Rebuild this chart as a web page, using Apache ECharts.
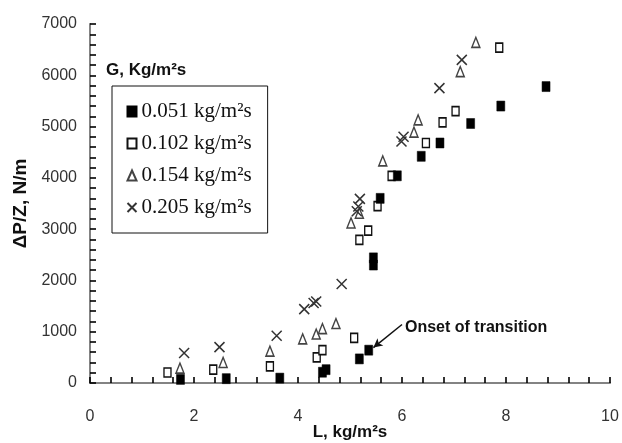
<!DOCTYPE html>
<html>
<head>
<meta charset="utf-8">
<script src="https://cdn.jsdelivr.net/npm/echarts@6/dist/echarts.min.js"></script>
<style>
  html, body { margin: 0; padding: 0; background: #fff; }
  #chart { width: 622px; height: 443px; }
</style>
</head>
<body>
<div id="chart"></div>
<script>
// ---- Data ----
const seriesNames = ['0.051 kg/m\u00b2s', '0.102 kg/m\u00b2s', '0.154 kg/m\u00b2s', '0.205 kg/m\u00b2s'];

// L (kg/m2s), dP/Z (N/m)
const g051 = [
  [1.74, 70], [2.62, 85], [3.65, 95], [4.47, 210], [4.54, 260], [5.18, 470],
  [5.36, 640], [5.45, 2300], [5.45, 2440], [5.58, 3600], [5.91, 4040],
  [6.37, 4420], [6.73, 4680], [7.32, 5060], [7.90, 5400], [8.77, 5780]
];
const g102 = [
  [1.49, 205], [2.37, 260], [3.46, 325], [4.36, 500], [4.47, 640], [5.08, 880],
  [5.18, 2790], [5.35, 2970], [5.53, 3450], [5.80, 4040], [6.46, 4680],
  [6.78, 5080], [7.03, 5300], [7.87, 6540]
];
const g154 = [
  [1.73, 290], [2.56, 400], [3.46, 620], [4.09, 860], [4.35, 955], [4.47, 1060],
  [4.73, 1160], [5.02, 3120], [5.18, 3310], [5.63, 4330], [6.23, 4890],
  [6.31, 5130], [7.12, 6070], [7.42, 6640]
];
const g205 = [
  [1.81, 585], [2.49, 700], [3.59, 920], [4.12, 1440], [4.30, 1560], [4.35, 1590],
  [4.84, 1930], [5.13, 3350], [5.16, 3440], [5.19, 3590], [5.99, 4710],
  [6.03, 4800], [6.72, 5750], [7.15, 6300]
];

// annotation arrow (data coordinates): from label to onset point
const onsetArrowFrom = [6.0, 1140];
const onsetArrowTo = [5.45, 690];

const xMin = 0, xMax = 10, xStep = 2;
const yMin = 0, yMax = 7000, yStep = 1000;

const sans = "'Liberation Sans', Arial, sans-serif";
const serif = "'Liberation Serif', 'Times New Roman', serif";

const chart = echarts.init(document.getElementById('chart'));

const option = {
  animation: false,
  backgroundColor: '#fff',
  grid: {
    left: 90, right: 12, top: 24, bottom: 60,
    outerBoundsMode: 'none'
  },
  title: {
    text: 'G, Kg/m\u00b2s',
    left: 106, top: 62,
    padding: 0,
    textStyle: { fontFamily: sans, fontWeight: 'bold', fontSize: 17, color: '#111' }
  },
  legend: {
    orient: 'vertical',
    left: 112, top: 86,
    padding: [15, 16, 15, 13],
    itemGap: 11,
    itemWidth: 9, itemHeight: 10,
    itemTextGap: 7,
    borderColor: '#111', borderWidth: 1,
    backgroundColor: '#fff',
    textStyle: { fontFamily: serif, fontSize: 21, color: '#111' },
    data: seriesNames
  },
  xAxis: [
    {
      type: 'value',
      position: 'bottom',
      min: xMin, max: xMax, interval: xStep,
      name: 'L, kg/m\u00b2s',
      nameLocation: 'middle',
      nameGap: 41,
      nameMoveOverlap: false,
      nameTextStyle: { fontFamily: sans, fontWeight: 'bold', fontSize: 17, color: '#111' },
      axisLine: { show: true, lineStyle: { color: '#000', width: 1.5 } },
      axisTick: { show: true, inside: true, length: 6, lineStyle: { color: '#000', width: 1.6 } },
      minorTick: { show: true, splitNumber: 5, length: 6, lineStyle: { color: '#000', width: 1.6 } },
      splitLine: { show: false },
      axisLabel: { margin: 26, fontFamily: sans, fontSize: 16, color: '#333' }
    },
    {
      type: 'value',
      position: 'top',
      min: xMin, max: xMax, interval: xStep,
      axisLine: { show: true, lineStyle: { color: '#9a9a9a', width: 1.5 } },
      axisTick: { show: false },
      axisLabel: { show: false },
      splitLine: { show: false }
    }
  ],
  yAxis: [
    {
      type: 'value',
      position: 'left',
      min: yMin, max: yMax, interval: yStep,
      name: '\u0394P/Z, N/m',
      nameLocation: 'middle',
      nameGap: 54,
      nameRotate: 90,
      nameTextStyle: { fontFamily: sans, fontWeight: 'bold', fontSize: 19, color: '#111' },
      axisLine: { show: true, lineStyle: { color: '#000', width: 1.5 } },
      axisTick: { show: true, inside: true, length: 6, lineStyle: { color: '#000', width: 1.6 } },
      minorTick: { show: true, splitNumber: 5, length: 6, lineStyle: { color: '#000', width: 1.6 } },
      splitLine: { show: false },
      axisLabel: {
        margin: 13, fontFamily: sans, fontSize: 16, color: '#333',
        formatter: function (v) { return String(v); }
      }
    },
    {
      type: 'value',
      position: 'right',
      min: yMin, max: yMax, interval: yStep,
      axisLine: { show: true, lineStyle: { color: '#9a9a9a', width: 1.5 } },
      axisTick: { show: false },
      axisLabel: { show: false },
      splitLine: { show: false }
    }
  ],
  graphic: [
    {
      type: 'text',
      left: 405, top: 320,
      style: {
        text: 'Onset of transition',
        font: "bold 16px 'Liberation Sans', Arial, sans-serif",
        fill: '#111'
      }
    }
  ],
  series: [
    {
      name: seriesNames[0],
      type: 'scatter',
      data: g051,
      symbol: 'rect',
      symbolSize: [8, 10],
      itemStyle: { color: '#000', borderColor: '#000', borderWidth: 0.5, opacity: 1 },
      z: 4,
      markLine: {
        silent: true,
        symbol: ['none', 'arrow'],
        symbolSize: [7, 9],
        label: { show: false },
        lineStyle: { color: '#111', width: 1.5, type: 'solid' },
        data: [[{ coord: onsetArrowFrom }, { coord: onsetArrowTo }]]
      }
    },
    {
      name: seriesNames[1],
      type: 'scatter',
      data: g102,
      symbol: 'rect',
      symbolSize: [7, 9],
      itemStyle: { color: '#fff', borderColor: '#111', borderWidth: 1.5, opacity: 1 },
      z: 3
    },
    {
      name: seriesNames[2],
      type: 'scatter',
      data: g154,
      symbol: 'triangle',
      symbolSize: [8, 10],
      itemStyle: { color: '#fff', borderColor: '#444', borderWidth: 1.5, opacity: 1 },
      z: 3
    },
    {
      name: seriesNames[3],
      type: 'scatter',
      data: g205,
      symbol: 'path://M0,0L10,10M10,0L0,10',
      symbolSize: 10,
      itemStyle: { color: 'none', borderColor: '#333', borderWidth: 1.5, opacity: 1 },
      z: 3
    }
  ]
};

chart.setOption(option);
</script>
</body>
</html>
